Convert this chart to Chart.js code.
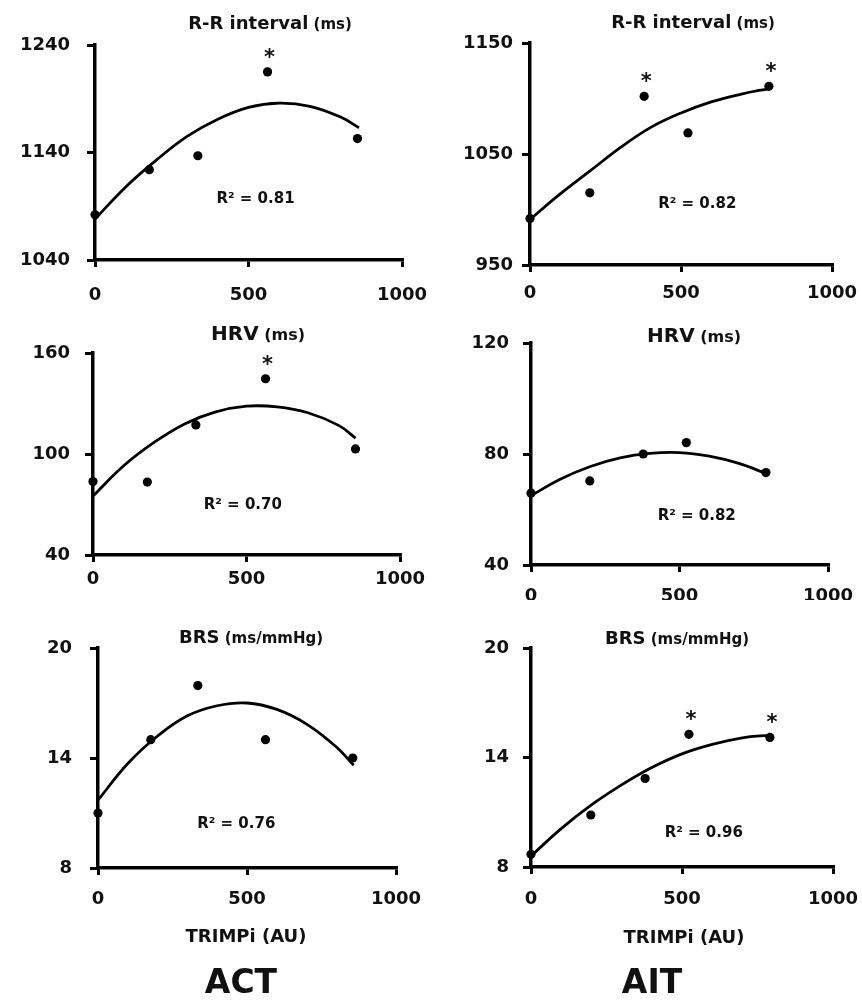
<!DOCTYPE html>
<html><head><meta charset="utf-8">
<script src="https://cdn.jsdelivr.net/npm/chart.js@4/dist/chart.umd.min.js"></script>
<style>
html,body{margin:0;padding:0;background:#fff;}
#wrap{position:relative;width:862px;height:1000px;overflow:hidden;background:#fff;}
canvas{position:absolute;}
</style></head><body><div id="wrap"></div>
<script>
// ---- data ----
const xTicks = [0, 500, 1000];
const actX = [0, 177, 335, 562, 855];   // TRIMPi (AU), ACT
const aitX = [0, 198, 378, 523, 791];   // TRIMPi (AU), AIT

const rrActY  = [1082, 1124, 1137, 1215, 1153];
const rrAitY  = [992, 1015, 1102, 1069, 1111];
const hrvActY = [83.6, 83.3, 117.3, 144.7, 103];
const hrvAitY = [65.9, 70.3, 80, 84.1, 73.3];
const brsActY = [11, 15.0, 17.95, 15.0, 14];
const brsAitY = [8.7, 10.85, 12.85, 15.27, 15.1];

const rrActSig  = [0, 0, 0, 1, 0];
const rrAitSig  = [0, 0, 1, 0, 1];
const hrvActSig = [0, 0, 0, 1, 0];
const hrvAitSig = [0, 0, 0, 0, 0];
const brsActSig = [0, 0, 0, 0, 0];
const brsAitSig = [0, 0, 0, 1, 1];

// quadratic trend lines
const rrActFitX  = [0, 100, 200, 300, 400, 500, 600, 700, 800, 860];
const rrActFitY  = [1078, 1108, 1133, 1155, 1171, 1182, 1186, 1183, 1173, 1163];
const rrAitFitX  = [0, 100, 200, 300, 400, 500, 600, 700, 792];
const rrAitFitY  = [991, 1014, 1035, 1056, 1074, 1087, 1097, 1104, 1109];
const hrvActFitX = [0, 100, 200, 300, 400, 500, 600, 700, 800, 855];
const hrvActFitY = [75, 93, 107, 118, 125, 128.4, 128, 124.5, 117, 109.5];
const hrvAitFitX = [0, 100, 200, 300, 400, 500, 600, 700, 791];
const hrvAitFitY = [65, 71, 75.5, 78.6, 80.2, 80.5, 79.2, 76.6, 73];
const brsActFitX = [0, 100, 200, 300, 400, 500, 600, 700, 800, 858];
const brsActFitY = [11.7, 13.7, 15.2, 16.3, 16.85, 17, 16.65, 15.85, 14.6, 13.6];
const brsAitFitX = [0, 100, 200, 300, 400, 500, 600, 700, 791];
const brsAitFitY = [8.6, 10.1, 11.4, 12.5, 13.45, 14.2, 14.72, 15.08, 15.23];

const rrActTicks  = [1040, 1140, 1240];
const rrAitTicks  = [950, 1050, 1150];
const hrvActTicks = [40, 100, 160];
const hrvAitTicks = [40, 80, 120];
const brsTicks    = [8, 14, 20];

const r2Labels = ['R² = 0.81', 'R² = 0.82', 'R² = 0.70', 'R² = 0.82', 'R² = 0.76', 'R² = 0.96'];
const xAxisTitle = 'TRIMPi (AU)';
const groupLabels = ['ACT', 'AIT'];

// ---- layout ----
const FAM = "'DejaVu Sans', 'Liberation Sans', sans-serif";
const INK = '#111';

const panels = [
  {L:0, T:0, W:431, H:300, yw:95, pr:29, pt:45, xh:40, yPad:17, xPad:18,
   xs:actX, ys:rrActY, sig:rrActSig, fx:rrActFitX, fy:rrActFitY, yt:rrActTicks,
   title:[['R-R interval',18],[' (ms)',15]], tcx:270, tby:29, r2:r2Labels[0], r2x:523, r2y:1097},
  {L:431, T:0, W:431, H:300, yw:99, pr:30, pt:43, xh:35, yPad:9, xPad:11,
   xs:aitX, ys:rrAitY, sig:rrAitSig, fx:rrAitFitX, fy:rrAitFitY, yt:rrAitTicks,
   title:[['R-R interval',18],[' (ms)',15]], tcx:262, tby:28, r2:r2Labels[1], r2x:554, r2y:1005},
  {L:0, T:300, W:431, H:300, yw:93, pr:31, pt:53, xh:45, yPad:15, xPad:7,
   xs:actX, ys:hrvActY, sig:hrvActSig, fx:hrvActFitX, fy:hrvActFitY, yt:hrvActTicks,
   title:[['HRV',20],[' (ms)',16]], tcx:258, tby:40, r2:r2Labels[2], r2x:488, r2y:69.7},
  {L:431, T:300, W:431, H:300, yw:100, pr:34, pt:43, xh:35, yPad:14, xPad:14,
   xs:aitX, ys:hrvAitY, sig:hrvAitSig, fx:hrvAitFitX, fy:hrvAitFitY, yt:hrvAitTicks,
   title:[['HRV',20],[' (ms)',16]], tcx:263, tby:42, r2:r2Labels[3], r2x:558, r2y:57.7},
  {L:0, T:600, W:431, H:400, yw:98, pr:35, pt:48, xh:132, yPad:18, xPad:14,
   xs:actX, ys:brsActY, sig:brsActSig, fx:brsActFitX, fy:brsActFitY, yt:brsTicks,
   title:[['BRS',18],[' (ms/mmHg)',15]], tcx:251, tby:43, r2:r2Labels[4], r2x:464, r2y:10.42,
   xt:xAxisTitle, xtcx:246, xtby:342, grp:groupLabels[0], gcx:241, gby:393},
  {L:431, T:600, W:431, H:400, yw:100, pr:29, pt:48, xh:133, yPad:14, xPad:15,
   xs:aitX, ys:brsAitY, sig:brsAitSig, fx:brsAitFitX, fy:brsAitFitY, yt:brsTicks,
   title:[['BRS',18],[' (ms/mmHg)',15]], tcx:246, tby:44, r2:r2Labels[5], r2x:572, r2y:9.87,
   xt:xAxisTitle, xtcx:253, xtby:343, grp:groupLabels[1], gcx:221, gby:393}
];

function textPlugin(p){
  return {
    id:'panelText',
    afterDraw(chart){
      const ctx = chart.ctx, xs = chart.scales.x, ys = chart.scales.y;
      ctx.save();
      ctx.fillStyle = INK;
      // title (mixed sizes)
      let total = 0;
      p.title.forEach(([t,s])=>{ ctx.font = 'bold '+s+'px '+FAM; total += ctx.measureText(t).width; });
      let x0 = p.tcx - total/2;
      ctx.textAlign = 'left'; ctx.textBaseline = 'alphabetic';
      p.title.forEach(([t,s])=>{ ctx.font = 'bold '+s+'px '+FAM; ctx.fillText(t, x0, p.tby); x0 += ctx.measureText(t).width; });
      // R² label
      ctx.font = 'bold 15px '+FAM;
      ctx.textAlign = 'center'; ctx.textBaseline = 'middle';
      ctx.fillText(p.r2, xs.getPixelForValue(p.r2x), ys.getPixelForValue(p.r2y));
      // significance stars
      ctx.font = 'bold 21px '+FAM;
      ctx.textBaseline = 'alphabetic';
      const m = ctx.measureText('*');
      const mid = (m.actualBoundingBoxAscent - m.actualBoundingBoxDescent)/2;
      p.sig.forEach((f,i)=>{
        if(!f) return;
        const px = xs.getPixelForValue(p.xs[i]) + 2;
        const py = ys.getPixelForValue(p.ys[i]) - 19;
        ctx.fillText('*', px, py + mid);
      });
      // axis title + group label
      if(p.xt){
        ctx.font = 'bold 18px '+FAM; ctx.textAlign='center';
        ctx.fillText(p.xt, p.xtcx, p.xtby);
        ctx.font = 'bold 33px '+FAM;
        ctx.fillText(p.grp, p.gcx, p.gby);
      }
      ctx.restore();
    }
  };
}

const plain = v => String(v);

const wrap = document.getElementById('wrap');
panels.forEach(p=>{
  const c = document.createElement('canvas');
  c.width = p.W; c.height = p.H;
  c.style.left = p.L+'px'; c.style.top = p.T+'px';
  c.style.width = p.W+'px'; c.style.height = p.H+'px';
  wrap.appendChild(c);
  const pts = p.xs.map((x,i)=>({x:x, y:p.ys[i]}));
  const fit = p.fx.map((x,i)=>({x:x, y:p.fy[i]}));
  new Chart(c.getContext('2d'), {
    type:'scatter',
    data:{datasets:[
      {data:pts, pointRadius:4.6, pointHoverRadius:4.6, pointBackgroundColor:'#000', pointBorderWidth:0, showLine:false, clip:false},
      {data:fit, showLine:true, pointRadius:0, pointHoverRadius:0, borderColor:'#000', borderWidth:2.8, tension:0.4, fill:false, clip:false}
    ]},
    options:{
      responsive:false, animation:false, devicePixelRatio:1, events:[],
      layout:{padding:{left:0, right:p.pr, top:p.pt, bottom:0}},
      plugins:{legend:{display:false}, tooltip:{enabled:false}, title:{display:false}},
      scales:{
        x:{type:'linear', min:xTicks[0], max:xTicks[xTicks.length-1],
          afterBuildTicks:s=>{ s.ticks = xTicks.map(v=>({value:v})); },
          afterFit:s=>{ s.height = p.xh; s.paddingLeft = 0; s.paddingRight = 0; },
          border:{display:true, color:'#000', width:3.5},
          grid:{display:true, drawOnChartArea:false, drawTicks:true, tickLength:7, tickColor:'#000', tickWidth:3, lineWidth:3, color:'#000'},
          ticks:{color:INK, font:{family:FAM, size:18, weight:'bold'}, padding:p.xPad, maxRotation:0, autoSkip:false, callback:plain}},
        y:{type:'linear', min:p.yt[0], max:p.yt[p.yt.length-1],
          afterBuildTicks:s=>{ s.ticks = p.yt.map(v=>({value:v})); },
          afterFit:s=>{ s.width = p.yw; s.paddingTop = 0; s.paddingBottom = 0; },
          border:{display:true, color:'#000', width:3.5},
          grid:{display:true, drawOnChartArea:false, drawTicks:true, tickLength:8, tickColor:'#000', tickWidth:3, lineWidth:3, color:'#000'},
          ticks:{color:INK, font:{family:FAM, size:18, weight:'bold'}, padding:p.yPad, autoSkip:false, callback:plain}}
      }
    },
    plugins:[textPlugin(p)]
  });
});
</script></body></html>
